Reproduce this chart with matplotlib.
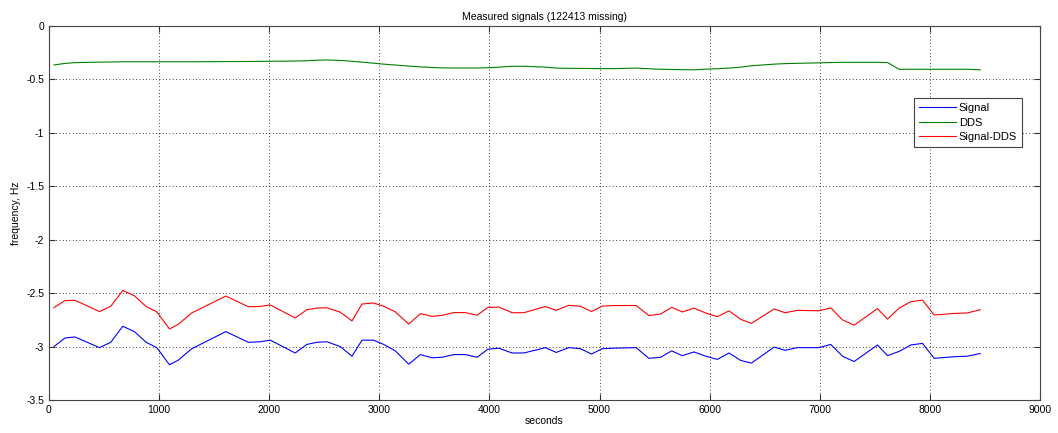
import numpy as np
import matplotlib.pyplot as plt

# Data
t = [45, 145, 236, 458, 561, 670, 776, 882, 979, 1094, 1170, 1297, 1606, 1812,
     1918, 2009, 2236, 2342, 2433, 2524, 2645, 2752, 2842, 2948, 3039, 3145,
     3267, 3373, 3479, 3570, 3676, 3782, 3888, 3985, 4085, 4206, 4312, 4509,
     4606, 4721, 4827, 4927, 5024, 5130, 5333, 5448, 5555, 5655, 5752, 5858,
     5964, 6070, 6176, 6282, 6379, 6585, 6685, 6797, 6994, 7100, 7206, 7312,
     7524, 7615, 7721, 7827, 7933, 8039, 8221, 8342, 8457]

signal = [-3.00, -2.92, -2.91, -3.01, -2.96, -2.81, -2.86, -2.96, -3.01, -3.17,
          -3.13, -3.02, -2.86, -2.96, -2.955, -2.94, -3.06, -2.98, -2.96, -2.955,
          -3.00, -3.09, -2.94, -2.94, -2.98, -3.04, -3.165, -3.075, -3.105, -3.10,
          -3.075, -3.075, -3.10, -3.025, -3.015, -3.06, -3.06, -3.01, -3.055,
          -3.01, -3.02, -3.07, -3.02, -3.015, -3.01, -3.11, -3.10, -3.04, -3.085,
          -3.05, -3.09, -3.12, -3.06, -3.13, -3.155, -3.005, -3.035, -3.01,
          -3.01, -2.98, -3.09, -3.14, -2.985, -3.085, -3.045, -2.985, -2.97,
          -3.11, -3.095, -3.09, -3.065]

dds = [-0.365, -0.35, -0.343, -0.338, -0.337, -0.335, -0.335, -0.335, -0.335,
       -0.335, -0.335, -0.335, -0.333, -0.332, -0.331, -0.330, -0.328, -0.325,
       -0.320, -0.318, -0.322, -0.330, -0.338, -0.348, -0.357, -0.365, -0.375,
       -0.383, -0.388, -0.392, -0.393, -0.393, -0.393, -0.391, -0.385, -0.377,
       -0.377, -0.385, -0.394, -0.396, -0.397, -0.398, -0.399, -0.399, -0.394,
       -0.400, -0.405, -0.407, -0.409, -0.41, -0.404, -0.400, -0.394, -0.385,
       -0.372, -0.357, -0.352, -0.349, -0.345, -0.342, -0.340, -0.340, -0.340,
       -0.342, -0.405, -0.405, -0.405, -0.405, -0.405, -0.405, -0.41]

diff = np.array(signal) - np.array(dds)

plt.rcParams['font.family'] = ['Liberation Sans', 'DejaVu Sans']

fig = plt.figure(figsize=(10.58, 4.33), dpi=100)
ax = fig.add_axes([49 / 1058, 1 - 400 / 433, 991 / 1058, 374 / 433])

ax.plot(t, signal, color='#0000ff', lw=0.8, label='Signal')
ax.plot(t, dds, color='#008000', lw=0.8, label='DDS')
ax.plot(t, diff, color='#ff0000', lw=0.8, label='Signal-DDS')

ax.set_xlim(0, 9000)
ax.set_ylim(-3.5, 0)
ax.set_xticks(np.arange(0, 9001, 1000))
ax.set_yticks(np.arange(-3.5, 0.01, 0.5))
ax.set_yticklabels(['-3.5', '-3', '-2.5', '-2', '-1.5', '-1', '-0.5', '0'])
ax.tick_params(direction='in', length=4, labelsize=7.5, top=True, right=True,
               color='#333333')
ax.grid(True, linestyle=(0, (1, 3)), color='black', lw=0.6)
for s in ax.spines.values():
    s.set_color('#444444')
    s.set_linewidth(0.8)

ax.set_title('Measured signals (122413 missing)', fontsize=7.5, pad=4)
ax.set_xlabel('seconds', fontsize=7.5, labelpad=1)
ax.set_ylabel('frequency, Hz', fontsize=7.5, labelpad=4)

leg = ax.legend(loc='upper right', bbox_to_anchor=(0.982, 0.807), fontsize=8,
                fancybox=False, framealpha=1, edgecolor='#444444',
                handlelength=3.3, borderpad=0.45, labelspacing=0.4,
                handletextpad=0.3, borderaxespad=0)
leg.get_frame().set_linewidth(0.8)

fig.savefig('out.png', dpi=100)
